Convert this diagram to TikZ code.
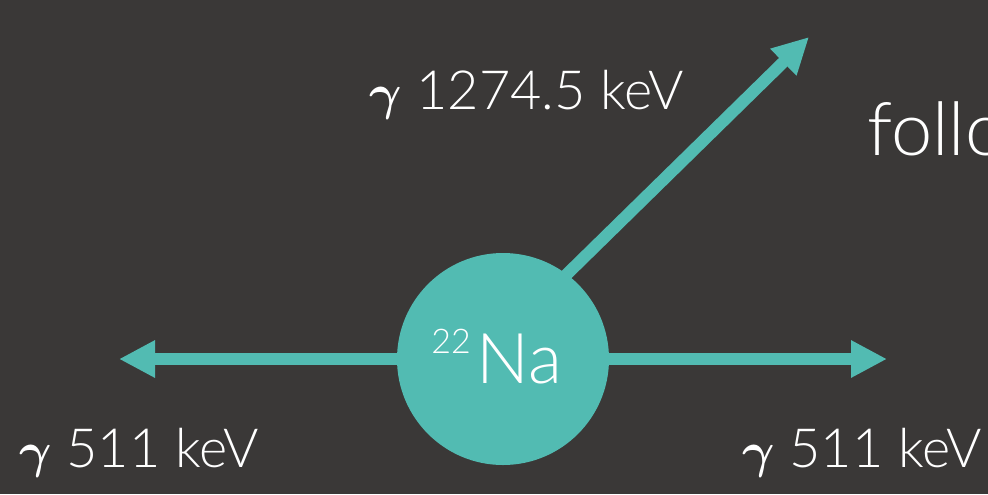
\documentclass[tikz,border=0pt]{standalone}
\usepackage{fontspec}
\setmainfont{Lato}[UprightFont={* Light}]
\usetikzlibrary{arrows.meta}
\definecolor{bg}{RGB}{58,56,55}
\definecolor{teal}{RGB}{82,187,178}
\tikzset{
  arr/.style={draw=teal, line width=6pt, shorten <=-4pt, -{Triangle[length=18pt,width=17.5pt]}},
  lbl/.style={text=white, anchor=base west, inner sep=0pt, font=\fontsize{27}{28}\selectfont},
}
\newcommand{\gam}{\mbox{\boldmath$\gamma$}}
\begin{document}
\begin{tikzpicture}[x=0.5pt,y=-0.5pt]
\useasboundingbox (0,0) rectangle (988,494);
\clip (0,0) rectangle (988,494);
\fill[bg] (0,0) rectangle (988,494);
\node[circle, fill=teal, minimum size=106pt, inner sep=0pt] (na) at (503,359) {};
\coordinate (lt) at (119,359);
\coordinate (rt) at (887,359);
\coordinate (ut) at (809,37);
\draw[arr] (na.180) -- (lt);
\draw[arr] (na.0) -- (rt);
\draw[arr] (na.53) -- (ut);
\node[text=white, anchor=base west, inner sep=0pt] (natext) at (431,383)
  {{\fontsize{17}{18}\selectfont\raisebox{15pt}{22}}\hspace{3pt}\fontsize{35}{36}\selectfont Na};
\node[lbl] (top) at (369,109) {\gam{} 1274.5 keV};
\node[lbl] (left) at (19,467) {\gam{} 511 keV};
\node[lbl] (right) at (742,467) {\gam{} 511 keV};
\node[text=white, anchor=base west, inner sep=0pt, font=\fontsize{37}{38}\selectfont] (follo) at (867,155) {follo};
\end{tikzpicture}
\end{document}
